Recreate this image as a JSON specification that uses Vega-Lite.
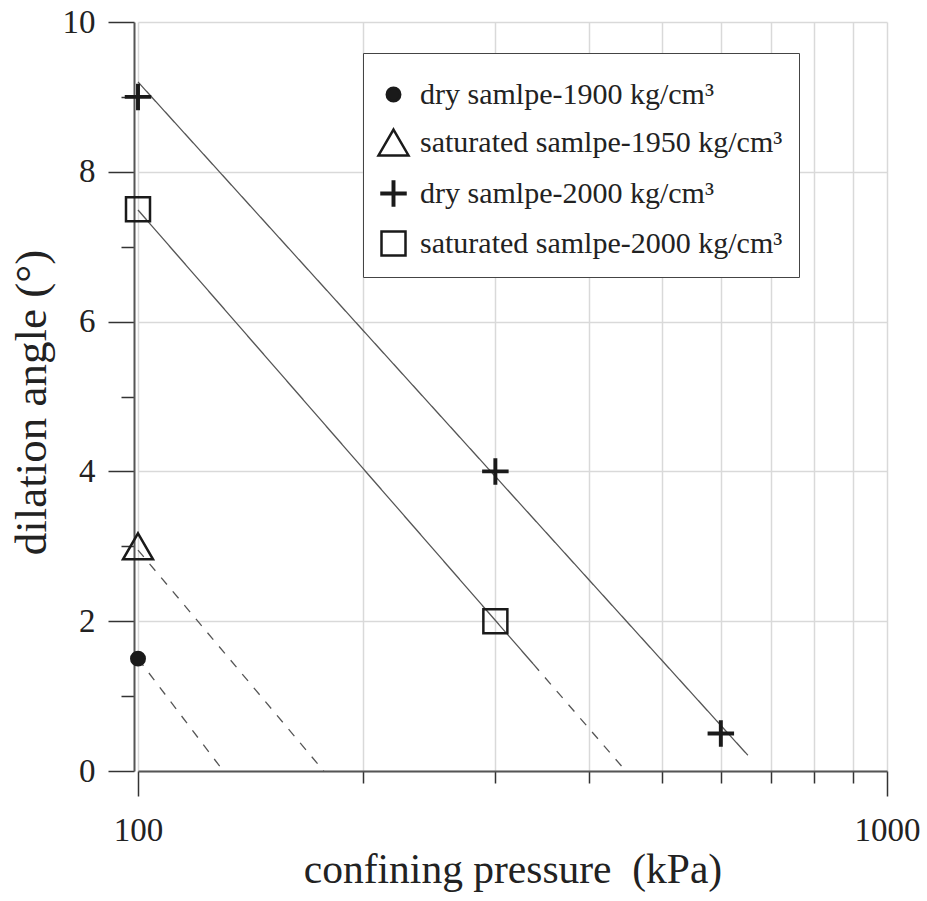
{
  "$schema": "https://vega.github.io/schema/vega-lite/v6.json",
  "width": 749,
  "height": 749,
  "autosize": {"type": "none"},
  "padding": {"left": 138, "top": 22, "right": 40, "bottom": 130},
  "background": "white",
  "datasets": {
    "pts": [
      {"p": 100, "a": 1.5, "series": "dry samlpe-1900 kg/cm³"},
      {"p": 100, "a": 3, "series": "saturated samlpe-1950 kg/cm³"},
      {"p": 100, "a": 9, "series": "dry samlpe-2000 kg/cm³"},
      {"p": 300, "a": 4, "series": "dry samlpe-2000 kg/cm³"},
      {"p": 600, "a": 0.5, "series": "dry samlpe-2000 kg/cm³"},
      {"p": 100, "a": 7.5, "series": "saturated samlpe-2000 kg/cm³"},
      {"p": 300, "a": 2, "series": "saturated samlpe-2000 kg/cm³"}
    ],
    "lines": [
      {"p": 100, "a": 1.5, "seg": "s1", "style": "dashed"},
      {"p": 130, "a": 0, "seg": "s1", "style": "dashed"},
      {"p": 100, "a": 2.95, "seg": "s2", "style": "dashed"},
      {"p": 177, "a": 0, "seg": "s2", "style": "dashed"},
      {"p": 100, "a": 9.2, "seg": "s3", "style": "solid"},
      {"p": 652, "a": 0.21, "seg": "s3", "style": "solid"},
      {"p": 100, "a": 7.49, "seg": "s4", "style": "solid"},
      {"p": 337, "a": 1.43, "seg": "s4", "style": "solid"},
      {"p": 337, "a": 1.43, "seg": "s5", "style": "dashed"},
      {"p": 448, "a": 0, "seg": "s5", "style": "dashed"}
    ]
  },
  "config": {
    "view": {"stroke": null},
    "font": "Liberation Serif",
    "axis": {
      "labelFont": "Liberation Serif",
      "titleFont": "Liberation Serif",
      "labelColor": "#222",
      "titleColor": "#222",
      "titleFontWeight": "normal",
      "gridColor": "#d9d9d9",
      "gridWidth": 1.5,
      "domainColor": "#555",
      "domainWidth": 2,
      "tickColor": "#333",
      "tickWidth": 1.5,
      "labelFontSize": 33,
      "labelFlush": false,
      "labelOverlap": false
    },
    "legend": {
      "labelFont": "Liberation Serif",
      "labelFontSize": 30,
      "labelColor": "#222",
      "strokeColor": "#444",
      "fillColor": "white",
      "padding": 16,
      "rowPadding": 7,
      "symbolSize": 2304,
      "symbolStrokeWidth": 2.5,
      "symbolOffset": -11,
      "labelOffset": 1,
      "labelLimit": 600
    }
  },
  "encoding": {
    "x": {
      "field": "p",
      "type": "quantitative",
      "scale": {"type": "log", "domain": [100, 1000]},
      "axis": {
        "values": [100, 200, 300, 400, 500, 600, 700, 800, 900, 1000],
        "labelExpr": "datum.value == 100 ? '100' : (datum.value == 1000 ? '1000' : '')",
        "tickSize": {"condition": {"test": "datum.value == 100 || datum.value == 1000", "value": 25}, "value": 12},
        "labelPadding": 18,
        "title": "confining pressure \u00a0(kPa)",
        "titleFontSize": 41.5,
        "titleBaseline": "alphabetic",
        "titleY": 111
      }
    },
    "y": {
      "field": "a",
      "type": "quantitative",
      "scale": {"domain": [0, 10]},
      "axis": {
        "values": [0, 1, 2, 3, 4, 5, 6, 7, 8, 9, 10],
        "offset": 4,
        "labelExpr": "datum.value % 2 == 0 ? datum.label : ''",
        "gridOpacity": {"condition": {"test": "datum.value % 2 == 0", "value": 1}, "value": 0},
        "tickSize": {"condition": {"test": "datum.value % 2 == 0", "value": 26}, "value": 13},
        "labelPadding": 13,
        "title": "dilation angle (°)",
        "titleFontSize": 45,
        "titleBaseline": "alphabetic",
        "titleAlign": "center",
        "titleX": -89,
        "titleY": 380
      }
    }
  },
  "layer": [
    {
      "data": {"name": "lines"},
      "mark": {"type": "line", "color": "#555", "strokeWidth": 1.3},
      "encoding": {
        "detail": {"field": "seg", "type": "nominal"},
        "strokeDash": {
          "field": "style",
          "type": "nominal",
          "scale": {"domain": ["solid", "dashed"], "range": [[1, 0], [9, 9]]},
          "legend": null
        }
      }
    },
    {
      "data": {"name": "pts"},
      "mark": {"type": "point", "strokeWidth": 2.5, "size": 2304, "opacity": 1},
      "encoding": {
        "shape": {
          "field": "series",
          "type": "nominal",
          "scale": {
            "domain": ["dry samlpe-1900 kg/cm³", "saturated samlpe-1950 kg/cm³", "dry samlpe-2000 kg/cm³", "saturated samlpe-2000 kg/cm³"],
            "range": [
              "M-0.28,0A0.28,0.28 0 1,0 0.28,0A0.28,0.28 0 1,0 -0.28,0Z",
              "M0,-0.54L0.625,0.54L-0.625,0.54Z",
              "M-0.5,-0.03H-0.03V-0.5H0.03V-0.03H0.5V0.03H0.03V0.5H-0.03V0.03H-0.5Z",
              "M-0.5,-0.5H0.5V0.5H-0.5Z"
            ]
          },
          "legend": {"orient": "none", "legendX": 225, "legendY": 31, "title": null}
        },
        "fill": {
          "field": "series",
          "type": "nominal",
          "scale": {
            "domain": ["dry samlpe-1900 kg/cm³", "saturated samlpe-1950 kg/cm³", "dry samlpe-2000 kg/cm³", "saturated samlpe-2000 kg/cm³"],
            "range": ["#1a1a1a", "transparent", "#1a1a1a", "transparent"]
          },
          "legend": {"orient": "none", "legendX": 225, "legendY": 31, "title": null}
        },
        "stroke": {
          "field": "series",
          "type": "nominal",
          "scale": {
            "domain": ["dry samlpe-1900 kg/cm³", "saturated samlpe-1950 kg/cm³", "dry samlpe-2000 kg/cm³", "saturated samlpe-2000 kg/cm³"],
            "range": ["#1a1a1a", "#1a1a1a", "#1a1a1a", "#1a1a1a"]
          },
          "legend": {"orient": "none", "legendX": 225, "legendY": 31, "title": null}
        }
      }
    }
  ]
}
